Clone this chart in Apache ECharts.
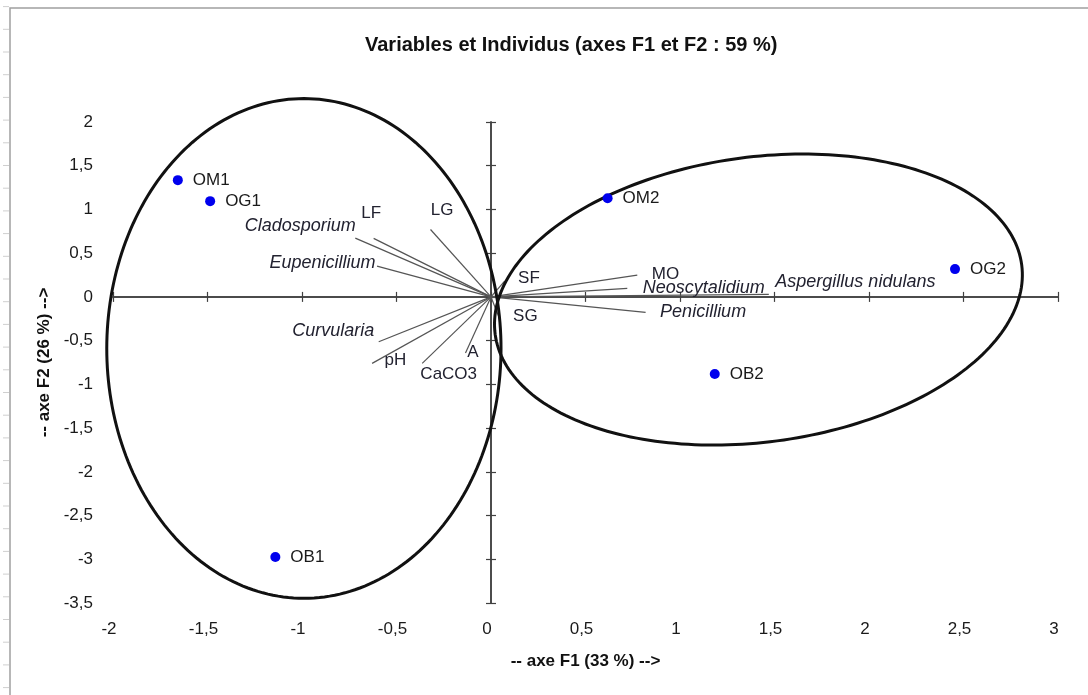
<!DOCTYPE html>
<html><head><meta charset="utf-8">
<script src="https://cdn.jsdelivr.net/npm/echarts@6/dist/echarts.min.js"></script>
<style>html,body{margin:0;padding:0;background:#fff}#c{width:1088px;height:695px}</style>
</head><body><div id="c"></div>
<script>
// ---- texts ----
const titleText = 'Variables et Individus (axes F1 et F2 : 59 %)';
const xAxisName = '-- axe F1 (33 %) -->';
const yAxisName = '-- axe F2 (26 %) -->';

// ---- axis scales ----
const xMin = -2, xMax = 3, yMin = -3.5, yMax = 2, tickStep = 0.5;

// ---- individuals (observations) ----
const obsNames = ['OM1', 'OG1', 'OM2', 'OG2', 'OB2', 'OB1'];
const obsF1 = [-1.657, -1.486, 0.617, 2.455, 1.184, -1.141];
const obsF2 = [1.335, 1.095, 1.129, 0.318, -0.882, -2.974];

// ---- variables (vectors from origin) ----
const varNames = ['LF', 'Cladosporium', 'LG', 'Eupenicillium', 'Curvularia', 'pH', 'CaCO3', 'A',
                  'SF', 'SG', 'MO', 'Neoscytalidium', 'Aspergillus nidulans', 'Penicillium'];
const varF1 = [-0.621, -0.718, -0.320, -0.603, -0.594, -0.629, -0.364, -0.135,
               0.072, 0.040, 0.774, 0.721, 1.470, 0.818];
const varF2 = [0.669, 0.672, 0.771, 0.352, -0.513, -0.760, -0.760, -0.642,
               0.181, -0.220, 0.249, 0.097, 0.030, -0.177];
const italicVars = ['Cladosporium', 'Eupenicillium', 'Curvularia', 'Neoscytalidium', 'Aspergillus nidulans', 'Penicillium'];

// ---- group ellipses (centre, semi-axes in axis units, tilt in degrees) ----
const groupCenterF1 = [-0.990, 1.415];
const groupCenterF2 = [-0.589, -0.030];
const groupRadiusF1 = [1.043, 1.405];
const groupRadiusF2 = [2.857, 1.630];
const groupTilt = [0, 7.5];

// ---- label placement (style only): [dx, dy, align] ----
const varLabelPlacement = {
  'LF': [-2, -25, 'center'],
  'Cladosporium': [1, -12, 'right'],
  'LG': [12, -19, 'center'],
  'Eupenicillium': [-1, -3, 'right'],
  'Curvularia': [-4, -10, 'right'],
  'pH': [13, -3, 'left'],
  'CaCO3': [27, 11, 'center'],
  'A': [8, 0, 'center'],
  'SF': [14, -2, 'left'],
  'SG': [15, 1, 'left'],
  'MO': [15, 0, 'left'],
  'Neoscytalidium': [16, 0, 'left'],
  'Aspergillus nidulans': [7, -12, 'left'],
  'Penicillium': [15, 0, 'left']
};

const FONT = '"Liberation Sans", Arial, sans-serif';
const fmt = v => String(v).replace('.', ',');
const AX = '#404040';
const TXT = '#1a1a1a';
const VTXT = '#222230';

function labelAxis(dim) {
  const isX = dim === 'x';
  return {
    type: 'value', min: isX ? xMin : yMin, max: isX ? xMax : yMax, interval: tickStep,
    position: isX ? 'bottom' : 'left',
    axisLine: { show: false, onZero: false },
    axisTick: { show: false },
    splitLine: { show: false },
    axisLabel: isX
      ? { formatter: fmt, margin: 18, fontSize: 17, color: TXT, fontFamily: FONT, padding: [0, 8, 0, 0] }
      : { formatter: fmt, margin: 20, fontSize: 17, color: TXT, fontFamily: FONT },
    name: isX ? xAxisName : yAxisName,
    nameLocation: 'middle',
    nameGap: isX ? 50 : 58,
    nameTextStyle: { fontSize: 17, fontWeight: 'bold', color: '#111', fontFamily: FONT }
  };
}
function crossAxis(dim, inside) {
  const isX = dim === 'x';
  return {
    type: 'value', min: isX ? xMin : yMin, max: isX ? xMax : yMax, interval: tickStep,
    position: isX ? 'bottom' : 'left',
    axisLine: { show: true, onZero: true, onZeroAxisIndex: 0, lineStyle: { color: AX, width: 1.5 } },
    axisTick: { show: true, inside: inside, length: 5, lineStyle: { color: AX, width: 1.2 } },
    axisLabel: { show: false },
    splitLine: { show: false }
  };
}

const frameTicks = [];
for (let y = 6.6; y < 695; y += 22.7) {
  frameTicks.push({ type: 'line', silent: true, shape: { x1: 3, y1: y, x2: 9, y2: y },
    style: { stroke: '#cfcfcf', lineWidth: 1 } });
}

// centre the title on x = 571 (as in the reference)
const TITLE_SIZE = 20;
const mc = document.createElement('canvas').getContext('2d');
mc.font = 'bold ' + TITLE_SIZE + 'px ' + FONT;
const titleW = mc.measureText(titleText).width;

const chart = echarts.init(document.getElementById('c'), null, { renderer: 'canvas' });
chart.setOption({
  animation: false,
  backgroundColor: '#fff',
  title: {
    text: titleText, left: Math.round(571 - titleW / 2), top: 34, padding: 0,
    textStyle: { fontSize: TITLE_SIZE, fontWeight: 'bold', color: '#111', fontFamily: FONT, lineHeight: 22 }
  },
  graphic: [
    { type: 'rect', silent: true, z: -10, shape: { x: 10, y: 8, width: 1100, height: 700 },
      style: { fill: 'none', stroke: '#a0a0a0', lineWidth: 1.5 } }
  ].concat(frameTicks),
  grid: { left: 113, right: 30, top: 122, bottom: 92, outerBoundsMode: 'none' },
  xAxis: [labelAxis('x'), crossAxis('x', false), crossAxis('x', true)],
  yAxis: [labelAxis('y'), crossAxis('y', false), crossAxis('y', true)],
  series: [
    {
      type: 'lines', coordinateSystem: 'cartesian2d', xAxisIndex: 0, yAxisIndex: 0, z: 2, silent: true,
      lineStyle: { color: '#555', width: 1.2, opacity: 1 },
      data: varNames.map((n, i) => ({ coords: [[0, 0], [varF1[i], varF2[i]]] }))
    },
    {
      type: 'scatter', xAxisIndex: 0, yAxisIndex: 0, z: 4, silent: true,
      symbolSize: 1, itemStyle: { color: 'rgba(0,0,0,0)', opacity: 1 },
      label: { show: true, formatter: '{b}', fontSize: 18, color: VTXT, opacity: 1, fontFamily: FONT },
      data: varNames.map((n, i) => {
        const p = varLabelPlacement[n];
        const it = italicVars.indexOf(n) >= 0;
        return {
          name: n, value: [varF1[i], varF2[i]],
          label: { position: [p[0], p[1]], align: p[2], verticalAlign: 'middle',
                   fontStyle: it ? 'italic' : 'normal', fontSize: it ? 18 : 17 }
        };
      })
    },
    {
      type: 'custom', xAxisIndex: 0, yAxisIndex: 0, z: 3, silent: true,
      encode: { x: 0, y: 1 },
      data: groupCenterF1.map((c, i) => [c, groupCenterF2[i], groupRadiusF1[i], groupRadiusF2[i], groupTilt[i]]),
      renderItem: function (params, api) {
        const c = api.coord([api.value(0), api.value(1)]);
        const s = api.size([api.value(2), api.value(3)]);
        const ang = api.value(4) * Math.PI / 180;
        const pts = [];
        const N = 240;
        for (let k = 0; k < N; k++) {
          const t = 2 * Math.PI * k / N;
          const ex = s[0] * Math.cos(t), ey = s[1] * Math.sin(t);
          pts.push([c[0] + ex * Math.cos(ang) + ey * Math.sin(ang),
                    c[1] - ex * Math.sin(ang) + ey * Math.cos(ang)]);
        }
        return { type: 'polygon', shape: { points: pts },
                 style: { fill: 'none', stroke: '#111', lineWidth: 3 } };
      }
    },
    {
      type: 'scatter', xAxisIndex: 0, yAxisIndex: 0, z: 5, silent: true,
      symbol: 'circle', symbolSize: 10, itemStyle: { color: '#0000ee', opacity: 1 },
      label: { show: true, position: 'right', distance: 10, formatter: '{b}',
               fontSize: 17, color: TXT, fontFamily: FONT },
      data: obsNames.map((n, i) => ({ name: n, value: [obsF1[i], obsF2[i]] }))
    }
  ]
});
</script>
</body></html>
